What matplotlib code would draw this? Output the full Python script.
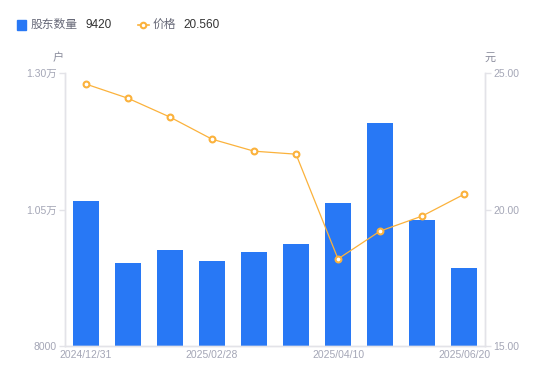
import matplotlib
matplotlib.use("Agg")
import matplotlib.pyplot as plt
from matplotlib.lines import Line2D
from matplotlib.patches import Rectangle

plt.rcParams['font.family'] = ['Liberation Sans', 'Noto Sans CJK SC', 'DejaVu Sans']

# data
dates = ['2024/12/31', '', '', '2025/02/28', '', '', '2025/04/10', '', '', '2025/06/20']
holders = [10656, 9520, 9758, 9557, 9722, 9868, 10619, 12084, 10308, 9420]
price = [24.60, 24.08, 23.39, 22.58, 22.14, 22.03, 18.19, 19.21, 19.76, 20.56]

left_ticks = [8000, 10500, 13000]
left_labels = ['8000', '1.05万', '1.30万']
right_ticks = [15, 20, 25]

BLUE = '#2878f5'
ORANGE = '#fbb23c'
AXIS = '#e3e3e8'
TICK_TXT = '#a4a6b6'

fig = plt.figure(figsize=(5.5, 3.81), dpi=100)
ax = fig.add_axes([0.118, 0.092, 0.764, 0.716])
ax2 = ax.twinx()

x = range(len(dates))
ax.bar(x, holders, width=0.6, color=BLUE, zorder=2)
ax.set_ylim(8000, 13000)
ax.set_xlim(-0.5, len(dates) - 0.5)
ax.set_yticks(left_ticks)
ax.set_yticklabels(left_labels)
ax.set_xticks(list(x))
ax.set_xticklabels(dates)

ax2.plot(x, price, color=ORANGE, lw=0.9, marker='o', ms=4.2, mfc='white',
         mec=ORANGE, mew=1.5, zorder=3)
ax2.set_ylim(15, 25)
ax2.set_yticks(right_ticks)
ax2.set_yticklabels([f'{v:.2f}' for v in right_ticks])

for a in (ax, ax2):
    a.spines['top'].set_visible(False)
    for s in ('left', 'right', 'bottom'):
        a.spines[s].set_color(AXIS)
        a.spines[s].set_linewidth(1)
    a.tick_params(axis='y', colors=AXIS, labelcolor=TICK_TXT, labelsize=7.5,
                  length=4, width=1, pad=2)
ax.tick_params(axis='x', length=0, labelcolor=TICK_TXT, labelsize=7.5, pad=3)
ax.set_zorder(ax2.get_zorder() - 1)
ax.patch.set_visible(False)

# axis units
fig.text(0.105, 0.848, '户', color='#8a8c9c', fontsize=8, ha='center', va='center')
fig.text(0.891, 0.848, '元', color='#8a8c9c', fontsize=8, ha='center', va='center')

# legend row
fig.patches.append(Rectangle((0.030, 0.922), 0.017, 0.025, transform=fig.transFigure,
                             color=BLUE, figure=fig))
fig.text(0.056, 0.934, '股东数量', color='#666877', fontsize=8.5, va='center')
fig.text(0.155, 0.934, f'{holders[-1]}', color='#333333', fontsize=8.5, va='center')
fig.lines.append(Line2D([0.250, 0.270], [0.934, 0.934], transform=fig.transFigure,
                        color=ORANGE, lw=1.2))
fig.lines.append(Line2D([0.260], [0.934], transform=fig.transFigure, color=ORANGE,
                        marker='o', ms=4, mfc='white', mec=ORANGE, mew=1.5))
fig.text(0.277, 0.934, '价格', color='#666877', fontsize=8.5, va='center')
fig.text(0.333, 0.934, f'{price[-1]:.3f}', color='#333333', fontsize=8.5, va='center')

fig.savefig('out.png', dpi=100)
